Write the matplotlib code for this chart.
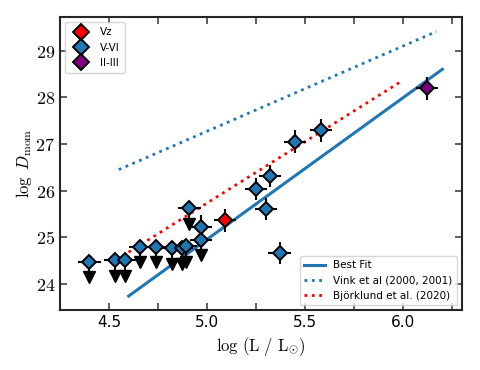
import matplotlib
matplotlib.use('Agg')
import matplotlib.pyplot as plt
from matplotlib.ticker import MultipleLocator, FixedLocator
from matplotlib.lines import Line2D

plt.rcParams['mathtext.fontset'] = 'cm'
plt.rcParams['font.family'] = 'DejaVu Sans'

# Vz detections
vz_logl = [5.09]
vz_dmom = [25.36]

# V-VI detections
v6_logl = [4.97, 5.25, 5.32, 5.30, 5.37, 5.45, 5.58]
v6_dmom = [25.23, 26.03, 26.31, 25.61, 24.66, 27.05, 27.29]

# V-VI upper limits
v6_ul_logl = [4.40, 4.53, 4.58, 4.66, 4.74, 4.82, 4.87, 4.89, 4.91, 4.97]
v6_ul_dmom = [24.48, 24.52, 24.52, 24.80, 24.80, 24.76, 24.77, 24.82, 25.62, 24.95]

# II-III detections
g3_logl = [6.12]
g3_dmom = [28.19]

# relations (end points)
fit_logl = [4.60, 6.20]
fit_dmom = [23.74, 28.60]
vink_logl = [4.55, 6.17]
vink_dmom = [26.45, 29.41]
bjork_logl = [4.60, 5.99]
bjork_dmom = [24.68, 28.34]

x_err = 0.057
y_err = 0.24
arrow_len = 0.34

blue = '#1f77b4'

fig = plt.figure(figsize=(4.8, 3.7), dpi=100)
ax = fig.add_axes([0.125, 0.162, 0.8375, 0.792])

l_fit, = ax.plot(fit_logl, fit_dmom, '-', color=blue, lw=2.2, label='Best Fit', zorder=2)
l_vink, = ax.plot(vink_logl, vink_dmom, ':', color=blue, lw=2.0,
                  label='Vink et al (2000, 2001)', zorder=2)
l_bj, = ax.plot(bjork_logl, bjork_dmom, ':', color='red', lw=2.0,
                label='Björklund et al. (2020)', zorder=2)

# upper limit arrows
ax.vlines(v6_ul_logl, [y - arrow_len for y in v6_ul_dmom], v6_ul_dmom,
          color='k', lw=1.5, zorder=3)
ax.plot(v6_ul_logl, [y - arrow_len for y in v6_ul_dmom], 'v', color='k',
        ms=8, zorder=3)

eb_kw = dict(fmt='D', mec='k', mew=1.4, ms=7.5, ecolor='k', elinewidth=1.5,
             capsize=0, zorder=4)
ax.errorbar(v6_ul_logl, v6_ul_dmom, xerr=x_err, mfc=blue, **eb_kw)
ax.errorbar(v6_logl, v6_dmom, xerr=x_err, yerr=y_err, mfc=blue, **eb_kw)
ax.errorbar(vz_logl, vz_dmom, xerr=x_err, yerr=y_err, mfc='red', **eb_kw)
ax.errorbar(g3_logl, g3_dmom, xerr=x_err, yerr=y_err, mfc='purple', **eb_kw)

ax.set_xlim(4.25, 6.3)
ax.set_ylim(23.44, 29.72)

ax.xaxis.set_major_locator(MultipleLocator(0.5))
ax.xaxis.set_minor_locator(MultipleLocator(0.25))
ax.yaxis.set_major_locator(MultipleLocator(1))
ax.yaxis.set_minor_locator(FixedLocator([]))
ax.tick_params(which='both', direction='in', top=True, right=True,
               length=5, width=1.1, color='0.2')
ax.tick_params(axis='x', labelsize=11)
ax.set_yticks(range(24, 30))
ax.set_yticklabels(['$%d$' % v for v in range(24, 30)], fontsize=13)
for s in ax.spines.values():
    s.set_linewidth(1.5)
    s.set_color('0.15')

ax.set_xlabel(r'$\log\,(\mathrm{L}\ /\ \mathrm{L}_{\odot})$', fontsize=12)
ax.set_ylabel(r'$\log\ D_{\mathrm{mom}}$', fontsize=12, labelpad=1)

sp_handles = [
    Line2D([], [], ls='none', marker='D', ms=8, mfc='red', mec='k', mew=1.4, label='Vz'),
    Line2D([], [], ls='none', marker='D', ms=8, mfc=blue, mec='k', mew=1.4, label='V-VI'),
    Line2D([], [], ls='none', marker='D', ms=8, mfc='purple', mec='k', mew=1.4, label='II-III'),
]
leg1 = ax.legend(handles=sp_handles, loc='upper left', fontsize=7.5,
                 borderpad=0.5, labelspacing=0.5)
ax.add_artist(leg1)
ax.legend(handles=[l_fit, l_vink, l_bj], loc='lower right', fontsize=7.5)

fig.savefig('out.png', dpi=100)
